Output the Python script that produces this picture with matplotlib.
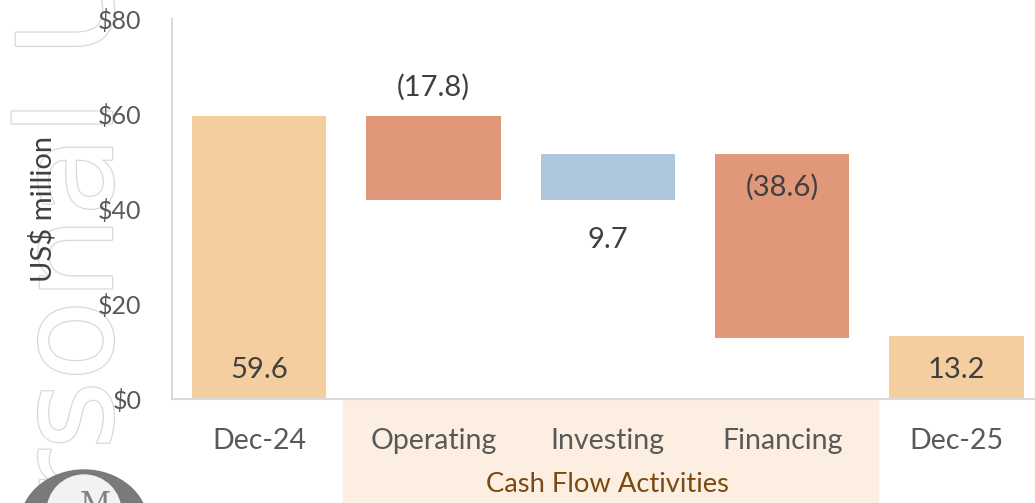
import numpy as np
import matplotlib
matplotlib.use("Agg")
import matplotlib.pyplot as plt
import matplotlib.patheffects as pe
from matplotlib.patches import Rectangle, Ellipse, Circle
import matplotlib.transforms as mtransforms

plt.rcParams['font.family'] = ['Lato', 'DejaVu Sans']

# data
categories = ['Dec-24', 'Operating', 'Investing', 'Financing', 'Dec-25']
values = [59.6, -17.8, 9.7, -38.6, 13.2]
is_total = [True, False, False, False, True]
labels = ['59.6', '(17.8)', '9.7', '(38.6)', '13.2']
yticks = [0, 20, 40, 60, 80]

c_total = '#F5CE9F'
c_neg = '#E0977A'
c_pos = '#AEC7DC'

fig = plt.figure(figsize=(10.35, 5.03), dpi=100)

# background layer in pixel coords (watermark + logo)
bg = fig.add_axes([0, 0, 1, 1], zorder=0)
bg.set_xlim(0, 1035)
bg.set_ylim(503, 0)
bg.axis('off')
wm = bg.text(112, 660, 'Personal Use', rotation=90, rotation_mode='anchor',
             ha='left', va='baseline', fontsize=95, color='white',
             family='DejaVu Sans')
wm.set_path_effects([pe.Stroke(linewidth=1.8, foreground='#d9d9d9'), pe.Normal()])
bg.add_patch(Ellipse((84, 525), 128, 110, color='#7a7a7a', zorder=3))
bg.add_patch(Circle((84, 512), 37, color='#f2f2f2', zorder=4))
bg.text(95, 505, 'M', ha='center', va='center', fontsize=22, color='#808080',
        family='DejaVu Serif', zorder=5)

ax = fig.add_axes([172 / 1035, 104 / 503, 1 - 172 / 1035, 380 / 503], zorder=1)
ax.patch.set_alpha(0)

x = np.arange(len(categories))
bottoms, heights, colors = [], [], []
running = 0.0
for v, tot in zip(values, is_total):
    if tot:
        bottoms.append(0)
        heights.append(v)
        colors.append(c_total)
        running = v
    else:
        lo = running if v > 0 else running + v
        bottoms.append(lo)
        heights.append(abs(v))
        colors.append(c_pos if v > 0 else c_neg)
        running += v

ax.bar(x, heights, bottom=bottoms, width=0.77, color=colors, zorder=2)

# data labels
for i, (b, h, lab) in enumerate(zip(bottoms, heights, labels)):
    if is_total[i]:
        yy = 6
    elif i == 1:
        yy = b + h + 6
    elif i == 2:
        yy = b - 8.3
    else:
        yy = b + h - 7
    ax.text(x[i], yy, lab, ha='center', va='center', fontsize=21, color='#404040', zorder=3)

ax.set_xlim(-0.5, 4.45)
ax.set_ylim(0, 80)
ax.set_yticks(yticks)
ax.set_yticklabels(['$%d' % t for t in yticks])
ax.set_xticks(x)
ax.set_xticklabels(categories)
ax.tick_params(axis='both', length=0, colors='#595959', labelsize=20.5)
ax.tick_params(axis='y', pad=22, labelsize=18)
ax.tick_params(axis='x', pad=21)
for s in ['top', 'right']:
    ax.spines[s].set_visible(False)
for s in ['left', 'bottom']:
    ax.spines[s].set_color('#d9d9d9')
    ax.spines[s].set_linewidth(1.5)

ax.set_ylabel('US$ million', fontsize=21, color='#404040', labelpad=30)

# shaded group band under cash flow categories
trans = mtransforms.blended_transform_factory(ax.transData, ax.transAxes)
band = Rectangle((0.48, -104 / 380), 3.55 - 0.48, 104 / 380, transform=trans,
                 color='#FCEFE2', clip_on=False, zorder=0)
ax.add_patch(band)
ax.text(2, -85 / 380, 'Cash Flow Activities', transform=trans, ha='center', va='center',
        fontsize=19.7, color='#7A4A12')

fig.savefig('out.png', dpi=100)
